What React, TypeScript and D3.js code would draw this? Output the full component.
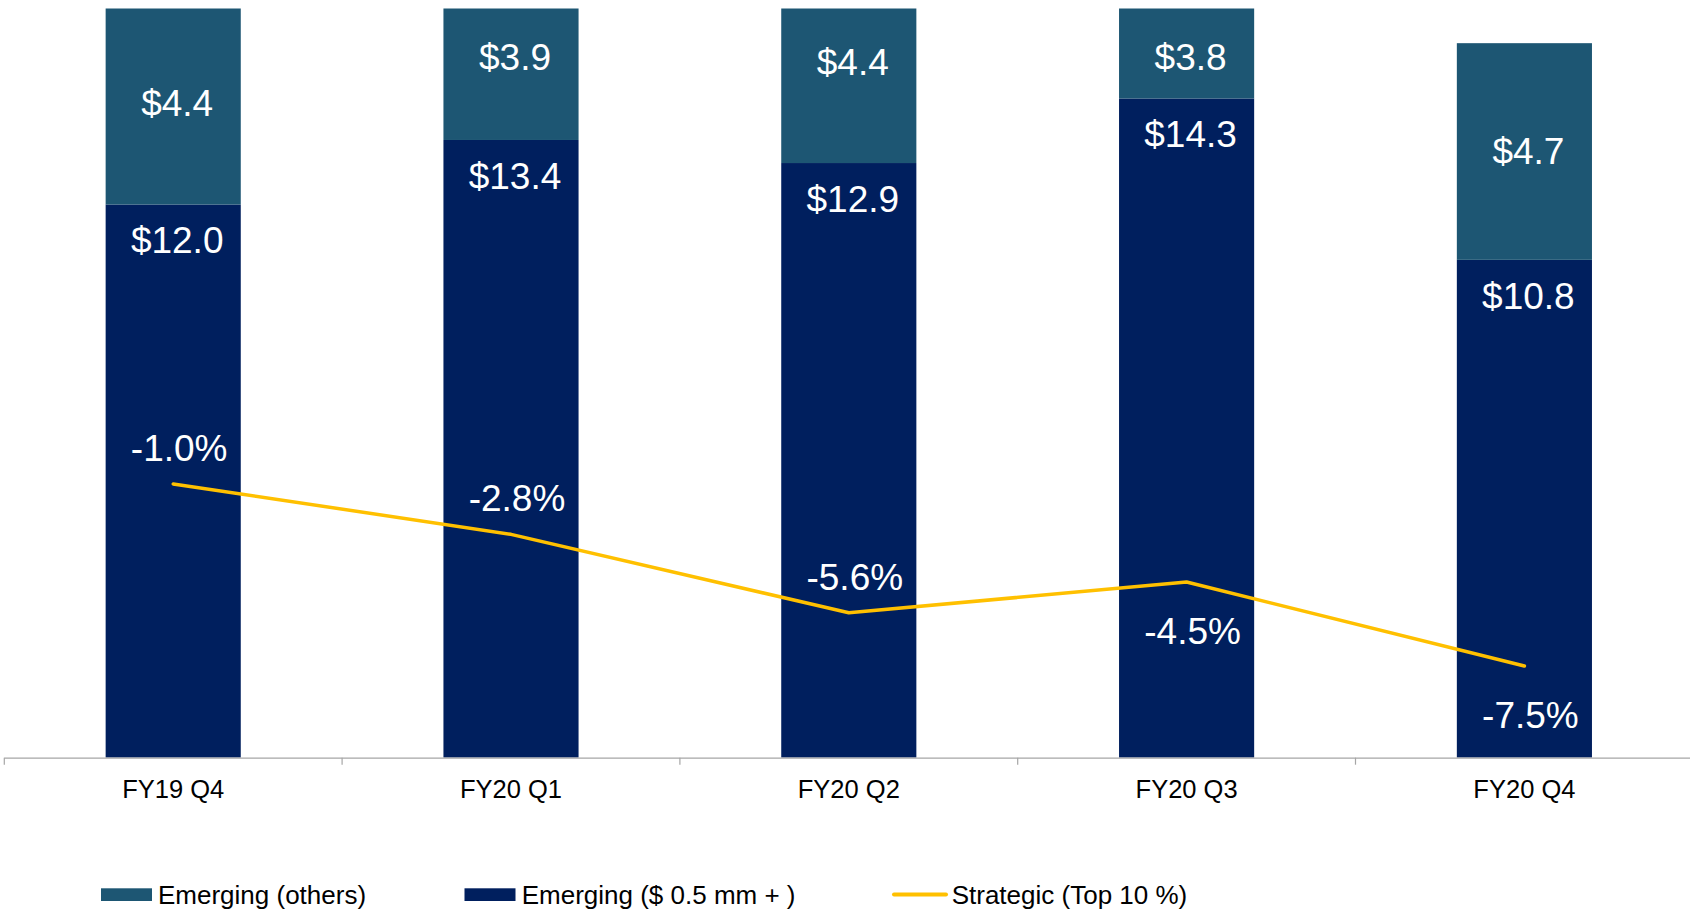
import React from 'react';
import * as d3 from 'd3';

// chart data
const quarters = ['FY19 Q4', 'FY20 Q1', 'FY20 Q2', 'FY20 Q3', 'FY20 Q4'];
const emergingBig = [12.0, 13.4, 12.9, 14.3, 10.8];
const emergingOthers = [4.4, 3.9, 4.4, 3.8, 4.7];
const strategic = [-1.0, -2.8, -5.6, -4.5, -7.5];
// which side of the line point each % label sits on (-1 above, 1 below)
const pctLabelSide = [-1, -1, -1, 1, 1];

const legendItems = ['Emerging (others)', 'Emerging ($ 0.5 mm + )', 'Strategic (Top 10 %)'];

const W = 1690;
const H = 915;
const FONT = '"Liberation Sans", Arial, sans-serif';
const C_OTHERS = '#1D5673';
const C_BIG = '#001F5E';
const C_LINE = '#FFC000';

export default function App() {
  const top = 8.6;
  const bottom = 757.7;

  // D3 mathy bits
  const x = d3.scaleBand<string>()
    .domain(quarters)
    .range([4.3, 4.3 + 337.8 * 5])
    .paddingInner(0.6)
    .paddingOuter(0.3);
  const step = x.step();
  const y = d3.scaleLinear().domain([0, 16.25]).range([bottom, top]);
  const y2 = d3.scaleLinear().domain([-10.77, 15.96]).range([bottom, top]);

  const cx = (q: string) => (x(q) as number) + x.bandwidth() / 2;

  const line = d3.line<number>()
    .x((d, i) => cx(quarters[i]))
    .y((d) => y2(d));

  let bars: JSX.Element[] = [];
  let labels: JSX.Element[] = [];
  quarters.forEach((q, i) => {
    const x0 = x(q) as number;
    const yBig = y(emergingBig[i]);
    const yTot = y(emergingBig[i] + emergingOthers[i]);
    bars.push(<rect key={'b' + i} x={x0} y={yBig} width={x.bandwidth()} height={bottom - yBig} fill={C_BIG} />);
    bars.push(<rect key={'o' + i} x={x0} y={yTot} width={x.bandwidth()} height={yBig - yTot} fill={C_OTHERS} />);

    const midOthers = Math.max(y(emergingBig[i] + emergingOthers[i] / 2), 57);
    labels.push(
      <text key={'lo' + i} x={cx(q) + 4} y={midOthers} dy="0.35em" textAnchor="middle" fill="#fff" fontSize={37}>
        {'$' + emergingOthers[i].toFixed(1)}
      </text>
    );
    labels.push(
      <text key={'lb' + i} x={cx(q) + 4} y={yBig + 36} dy="0.35em" textAnchor="middle" fill="#fff" fontSize={37}>
        {'$' + emergingBig[i].toFixed(1)}
      </text>
    );
  });

  const pctLabels = strategic.map((v, i) => (
    <text key={'p' + i} x={cx(quarters[i]) + 6} y={y2(v) + (pctLabelSide[i] < 0 ? -36 : 49)} dy="0.35em"
      textAnchor="middle" fill="#fff" fontSize={37}>
      {v.toFixed(1) + '%'}
    </text>
  ));

  const ticks = d3.range(0, quarters.length + 1).map((i) => 4.3 + i * step);

  return (
    <div style={{ position: 'absolute', left: 0, top: 0 }}>
      <svg width={W} height={H} style={{ display: 'block', fontFamily: FONT }}>
        <defs>
          <clipPath id="plot">
            <rect x={0} y={top} width={W} height={bottom - top} />
          </clipPath>
        </defs>
        <rect width={W} height={H} fill="#fff" />
        <g clipPath="url(#plot)">{bars}</g>
        {labels}
        <path d={line(strategic) || ''} fill="none" stroke={C_LINE} strokeWidth={3.5} strokeLinejoin="round" strokeLinecap="round" />
        {pctLabels}

        <g>
          <line x1={4.3} x2={W} y1={bottom + 0.5} y2={bottom + 0.5} stroke="#A6A6A6" strokeWidth={1.2} />
          {ticks.map((t, i) => (
            <line key={'t' + i} x1={t} x2={t} y1={bottom} y2={bottom + 7} stroke="#A6A6A6" strokeWidth={1.2} />
          ))}
          {quarters.map((q) => (
            <text key={q} x={cx(q)} y={789} dy="0.35em" textAnchor="middle" fill="#000" fontSize={25.5}>{q}</text>
          ))}
        </g>

        <g>
          <rect x={101} y={888.3} width={51} height={12.7} fill={C_OTHERS} />
          <text x={158} y={894.5} dy="0.35em" fontSize={26} fill="#000">{legendItems[0]}</text>
          <rect x={464.5} y={888.3} width={51} height={12.7} fill={C_BIG} />
          <text x={521.7} y={894.5} dy="0.35em" fontSize={26} fill="#000">{legendItems[1]}</text>
          <line x1={894} x2={946} y1={894.5} y2={894.5} stroke={C_LINE} strokeWidth={4} strokeLinecap="round" />
          <text x={951.7} y={894.5} dy="0.35em" fontSize={26} fill="#000">{legendItems[2]}</text>
        </g>
      </svg>
    </div>
  );
}
